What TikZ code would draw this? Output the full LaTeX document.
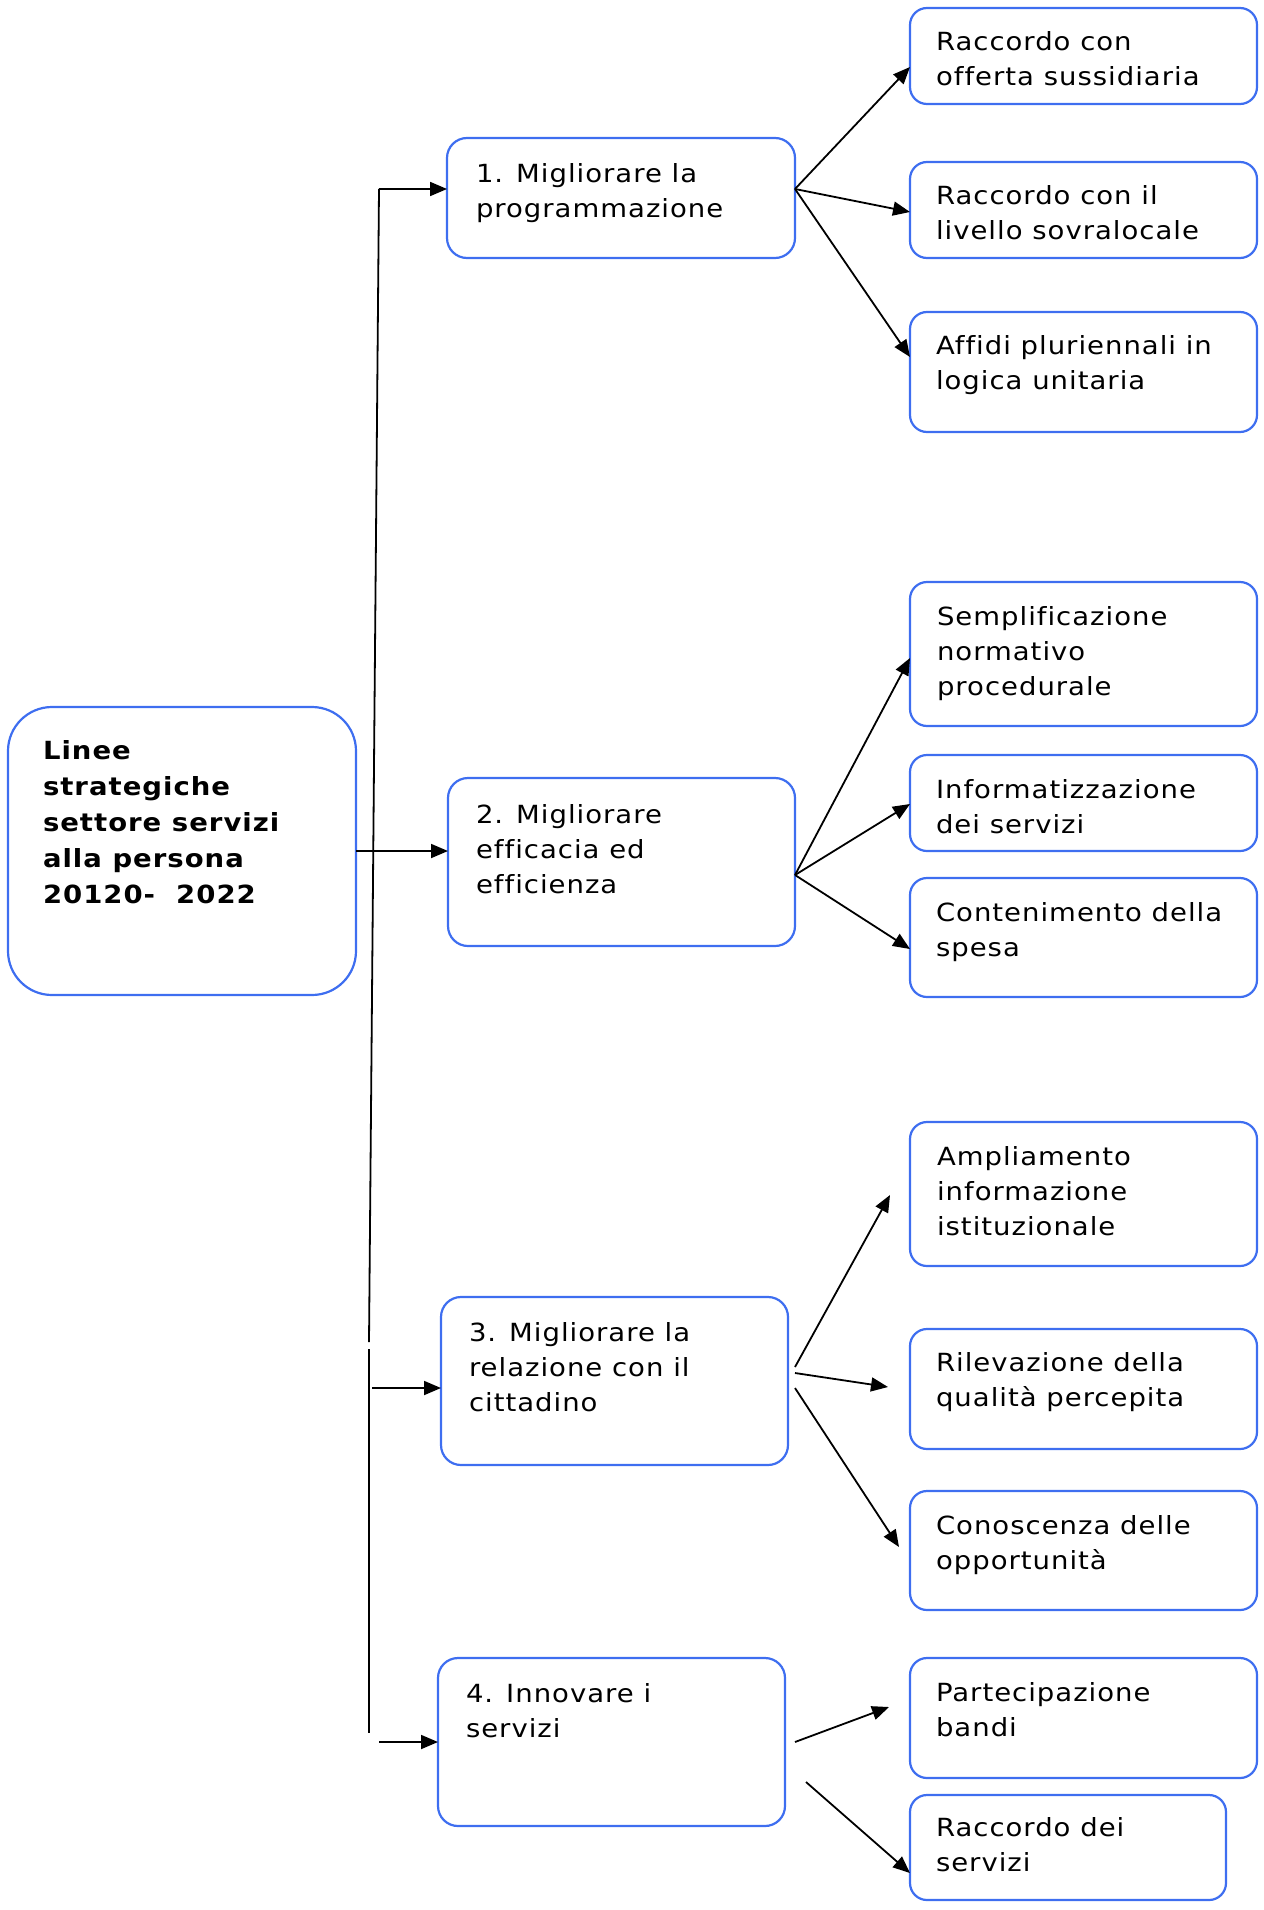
\documentclass[tikz,border=0pt]{standalone}
\usepackage{fontspec}
\setmainfont{DejaVu Sans}[FakeStretch=1.1, LetterSpace=4, Ligatures=NoCommon]
\usetikzlibrary{arrows.meta}
\definecolor{bblue}{RGB}{62,110,240}
\tikzset{
  box/.style={draw=bblue, line width=1.1pt, rounded corners=8.5pt, inner sep=0pt, outer sep=0pt},
  bigr/.style={rounded corners=10pt},
  rootr/.style={rounded corners=22pt},
  txt/.style={align=left, inner sep=0pt, outer sep=0pt, font=\fontsize{12.5}{17.5}\selectfont},
  arr/.style={line width=0.9pt, -{Triangle[length=8.5pt,width=7pt]}},
  ln/.style={line width=0.9pt}
}
\newcommand\mkbox[9][]{%
  \node[box,#1,minimum width={(#5-#3)*0.5pt},minimum height={(#6-#4)*0.5pt}] (#2) at ({(#3+#5)/2},{(#4+#6)/2}) {};
  \node[txt,anchor=north west] (#2t) at ([shift={(#7,#8)}]#2.north west) {#9};
}
\begin{document}
\begin{tikzpicture}[x=0.5pt,y=-0.5pt]
\useasboundingbox (0,0) rectangle (1263,1910);
% root
\node[box,rootr,minimum width={348*0.5pt},minimum height={288*0.5pt}] (root) at (182,851) {};
\node[txt,anchor=north west,font=\bfseries\fontsize{12.5}{18}\selectfont] (roott) at ([shift={(35,33)}]root.north west)
  {Linee\\strategiche\\settore servizi\\alla persona\\20120-\ \ 2022};
% level 1
\mkbox[bigr]{b1}{447}{138}{795}{258}{29}{26}{1. Migliorare la\\programmazione}
\mkbox[bigr]{b2}{448}{778}{795}{946}{28}{26}{2. Migliorare\\efficacia ed\\efficienza}
\mkbox[bigr]{b3}{441}{1297}{788}{1465}{28}{25}{3. Migliorare la\\relazione con il\\cittadino}
\mkbox[bigr]{b4}{438}{1658}{785}{1826}{28}{25}{4. Innovare i\\servizi}
% level 2
\mkbox{r1}{910}{8}{1257}{104}{26}{24}{Raccordo con\\offerta sussidiaria}
\mkbox{r2}{910}{162}{1257}{258}{26}{24}{Raccordo con il\\livello sovralocale}
\mkbox{r3}{910}{312}{1257}{432}{26}{24}{Affidi pluriennali in\\logica unitaria}
\mkbox{r4}{910}{582}{1257}{726}{27}{24}{Semplificazione\\normativo\\procedurale}
\mkbox{r5}{910}{755}{1257}{851}{26}{24}{Informatizzazione\\dei servizi}
\mkbox{r6}{910}{878}{1257}{997}{26}{24}{Contenimento della\\spesa}
\mkbox{r7}{910}{1122}{1257}{1266}{27}{24}{Ampliamento\\informazione\\istituzionale}
\mkbox{r8}{910}{1329}{1257}{1449}{26}{23}{Rilevazione della\\qualità percepita}
\mkbox{r9}{910}{1491}{1257}{1610}{26}{24}{Conoscenza delle\\opportunità}
\mkbox{r10}{910}{1658}{1257}{1778}{26}{24}{Partecipazione\\bandi}
\mkbox{r11}{910}{1795}{1226}{1900}{26}{22}{Raccordo dei\\servizi}
% trunk
\coordinate (trTop) at (379,189);
\coordinate (gapA) at (369,1342);
\coordinate (gapB) at (369,1349);
\coordinate (trBot) at (369,1733);
\draw[ln] (trTop) -- (gapA);
\draw[ln] (gapB) -- (trBot);
\draw[arr] (trTop) -- (trTop -| b1.west);
\draw[arr] (root.east) -- (root.east -| b2.west);
\coordinate (a3s) at (372,1388);
\draw[arr] (a3s) -- (a3s -| b3.west);
\coordinate (a4s) at (379,1742);
\draw[arr] (a4s) -- (a4s -| b4.west);
% box1 fan
\coordinate (o1) at (b1.east |- 0,189);
\draw[arr] (o1) -- (r1.west |- 0,67);
\draw[arr] (o1) -- (r2.west |- 0,212);
\draw[arr] (o1) -- (r3.west |- 0,357);
% box2 fan
\coordinate (o2) at (b2.east |- 0,875);
\draw[arr] (o2) -- (r4.west |- 0,658);
\draw[arr] (o2) -- (r5.west |- 0,804);
\draw[arr] (o2) -- (r6.west |- 0,949);
% box3 fan (free ends)
\coordinate (o3a) at (795,1367);
\coordinate (o3b) at (795,1373);
\coordinate (o3c) at (795,1388);
\coordinate (e3a) at (890,1195);
\coordinate (e3b) at (888,1387);
\coordinate (e3c) at (899,1547);
\draw[arr] (o3a) -- (e3a);
\draw[arr] (o3b) -- (e3b);
\draw[arr] (o3c) -- (e3c);
% box4 fan
\coordinate (o4a) at (795,1742);
\coordinate (o4b) at (806,1782);
\coordinate (e4a) at (889,1707);
\draw[arr] (o4a) -- (e4a);
\draw[arr] (o4b) -- (r11.west |- 0,1873);
\end{tikzpicture}
\end{document}
